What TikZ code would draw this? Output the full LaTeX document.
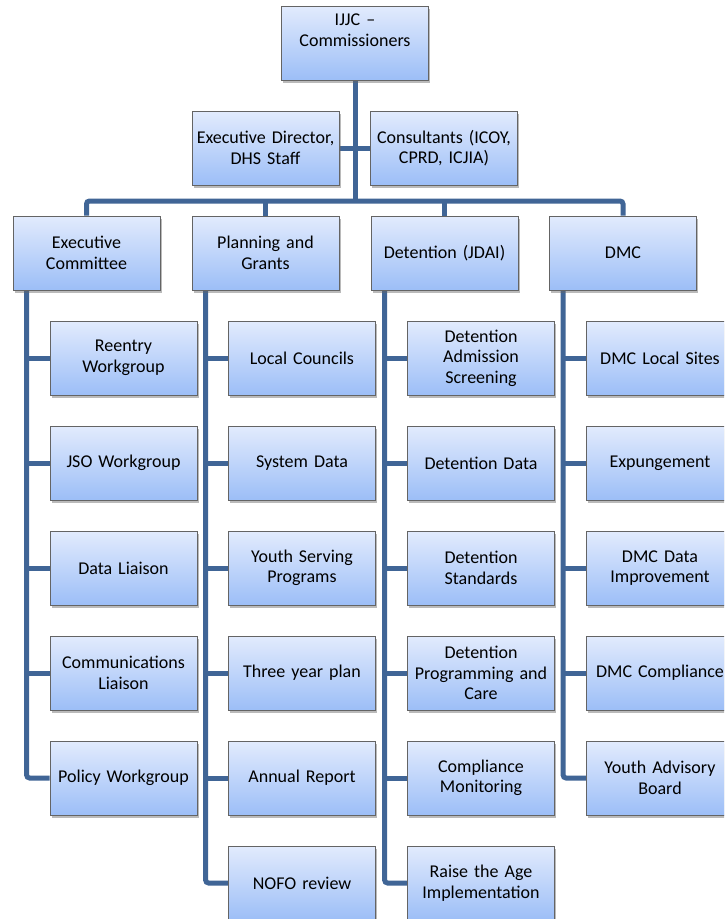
\documentclass[tikz,border=0pt]{standalone}
\usepackage{fontspec}
\setmainfont{Carlito}
\usetikzlibrary{shadows,backgrounds}
\definecolor{conncol}{RGB}{64,101,150}
\definecolor{boxtop}{RGB}{226,235,253}
\definecolor{boxbot}{RGB}{156,190,247}
\definecolor{boxline}{RGB}{100,100,100}
\begin{document}
\begin{tikzpicture}[x=1pt,y=-1pt,
  orgbox/.style={draw=boxline, line width=0.8pt, top color=boxtop, bottom color=boxbot,
    minimum width=147pt, minimum height=74pt, inner sep=2pt, align=center, text width=143pt,
    font=\fontsize{18}{20.5}\selectfont,
    drop shadow={shadow xshift=1.5pt, shadow yshift=-3pt, opacity=0.45, fill=black!60}},
  conn/.style={draw=conncol, line width=5pt, rounded corners=3pt}]
\clip (0,0) rectangle (724,919);
% top levels
\node[orgbox] (top) at (355,43) {IJJC –\\Commissioners\\[5.5pt]\mbox{}};
\node[orgbox] (ed) at (265.5,148) {Executive Director,\\DHS Staff};
\node[orgbox] (cons) at (444,148) {Consultants (ICOY,\\CPRD, ICJIA)};
\node[orgbox] (ec) at (86.5,253) {Executive\\Committee};
\node[orgbox] (pg) at (265.5,253) {Planning and\\Grants};
\node[orgbox] (det) at (444.5,253) {Detention (JDAI)};
\node[orgbox] (dmc) at (623,253) {DMC};
% executive committee children
\node[orgbox] (ec1) at (123.5,358) {Reentry\\Workgroup};
\node[orgbox] (ec2) at (123.5,463) {JSO Workgroup};
\node[orgbox] (ec3) at (123.5,568) {Data Liaison};
\node[orgbox] (ec4) at (123.5,673) {Communications\\Liaison};
\node[orgbox] (ec5) at (123.5,778) {Policy Workgroup};
% planning children
\node[orgbox] (pg1) at (302,358) {Local Councils};
\node[orgbox] (pg2) at (302,463) {System Data};
\node[orgbox] (pg3) at (302,568) {Youth Serving\\Programs};
\node[orgbox] (pg4) at (302,673) {Three year plan};
\node[orgbox] (pg5) at (302,778) {Annual Report};
\node[orgbox] (pg6) at (302,883) {NOFO review};
% detention children
\node[orgbox] (det1) at (481,358) {Detention\\Admission\\Screening};
\node[orgbox] (det2) at (481,463) {Detention Data};
\node[orgbox] (det3) at (481,568) {Detention\\Standards};
\node[orgbox] (det4) at (481,673) {Detention\\Programming and\\Care};
\node[orgbox] (det5) at (481,778) {Compliance\\Monitoring};
\node[orgbox] (det6) at (481,883) {Raise the Age\\Implementation};
% dmc children
\node[orgbox] (dmc1) at (660,358) {DMC Local Sites};
\node[orgbox] (dmc2) at (660,463) {Expungement};
\node[orgbox] (dmc3) at (660,568) {DMC Data\\Improvement};
\node[orgbox] (dmc4) at (660,673) {DMC Compliance};
\node[orgbox] (dmc5) at (660,778) {Youth Advisory\\Board};
% connectors
\coordinate (barc) at (355,201);
\coordinate (ecv) at ([xshift=14pt]ec.south west);
\coordinate (pgv) at ([xshift=14pt]pg.south west);
\coordinate (detv) at ([xshift=14pt]det.south west);
\coordinate (dmcv) at ([xshift=14pt]dmc.south west);
\begin{scope}[on background layer]
\fill[white] (0,0) rectangle (724,919);
\draw[conn] (top.south) -- (barc);
\draw[conn] (ed.east) -- (cons.west);
\draw[conn] (ec.north) |- (barc) -| (dmc.north);
\draw[conn] (pg.north) -- (pg.north |- barc);
\draw[conn] (det.north) -- (det.north |- barc);
\draw[conn] (ecv) |- (ec5.west);
\foreach \i in {1,...,4} \draw[conn] (ecv |- ec\i.west) -- (ec\i.west);
\draw[conn] (pgv) |- (pg6.west);
\foreach \i in {1,...,5} \draw[conn] (pgv |- pg\i.west) -- (pg\i.west);
\draw[conn] (detv) |- (det6.west);
\foreach \i in {1,...,5} \draw[conn] (detv |- det\i.west) -- (det\i.west);
\draw[conn] (dmcv) |- (dmc5.west);
\foreach \i in {1,...,4} \draw[conn] (dmcv |- dmc\i.west) -- (dmc\i.west);
\end{scope}
\end{tikzpicture}
\end{document}
